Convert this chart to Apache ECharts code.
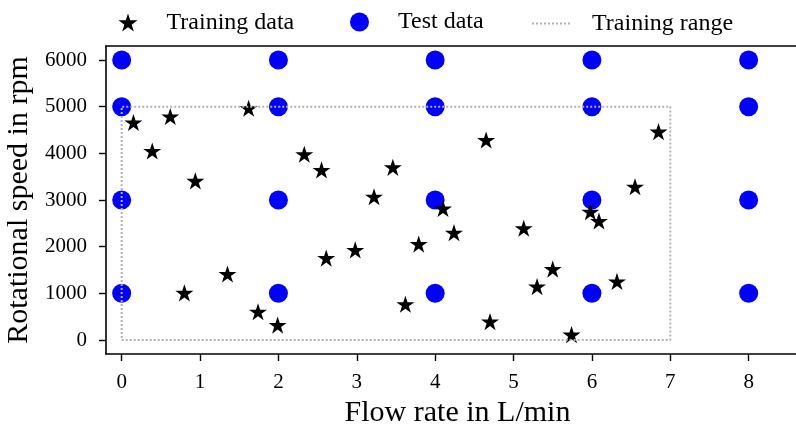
<!DOCTYPE html>
<html>
<head>
<meta charset="utf-8">
<script src="https://cdn.jsdelivr.net/npm/echarts@6/dist/echarts.min.js"></script>
<style>
  html, body { margin: 0; padding: 0; background: #fff; }
  #chart { width: 796px; height: 427px; }
</style>
</head>
<body>
<div id="chart"></div>
<script>
// training points: flow rate (L/min), rotational speed (rpm)
const trainFlow = [0.15, 0.62, 1.62, 0.39, 0.94, 2.33, 2.55, 3.46, 3.22, 4.10,
  3.79, 2.98, 2.61, 1.35, 0.80, 1.74, 1.99, 3.62, 4.65, 6.85,
  6.55, 4.24, 5.13, 5.98, 6.09, 5.50, 5.30, 6.32, 4.70, 5.74];
const trainSpeed = [4660, 4790, 4965, 4050, 3410, 3980, 3645, 3700, 3070, 2820,
  2055, 1930, 1755, 1415, 1010, 605, 320, 765, 4285, 4465,
  3285, 2300, 2395, 2750, 2550, 1520, 1145, 1255, 395, 115];

// test grid
const testFlow = [0, 2, 4, 6, 8];
const testSpeed = [1000, 3000, 5000, 6000];

// training range box corners
const rangeFlow = [0, 7, 7, 0, 0];
const rangeSpeed = [0, 0, 5000, 5000, 0];

const xTicks = [0, 1, 2, 3, 4, 5, 6, 7, 8];
const yTicks = [0, 1000, 2000, 3000, 4000, 5000, 6000];

const starPath = 'path://M100,0 L122.45,69.1 L195.1,69.1 L136.33,111.8 L158.78,180.9 L100,138.2 L41.22,180.9 L63.67,111.8 L4.9,69.1 L77.55,69.1 Z';
const font = 'Liberation Serif';

const trainData = trainFlow.map((f, i) => [f, trainSpeed[i]]);
const testData = testFlow.flatMap(f => testSpeed.map(s => [f, s]));
const rangeData = rangeFlow.map((f, i) => [f, rangeSpeed[i]]);

const chart = echarts.init(document.getElementById('chart'), null, { renderer: 'canvas' });

const legendText = pad => ({ fontFamily: font, fontSize: 24, color: '#000', padding: [0, 0, 0, pad] });

const option = {
  animation: false,
  textStyle: { fontFamily: font },
  legend: [
    { data: [{ name: 'Training data', icon: starPath }], left: 118.5, top: 10.5, padding: 0,
      itemWidth: 19, itemHeight: 19, textStyle: legendText(24), selectedMode: false },
    { data: [{ name: 'Test data', icon: 'circle' }], left: 350, top: 10, padding: 0,
      itemWidth: 19, itemHeight: 19, textStyle: legendText(24), selectedMode: false },
    { data: [{ name: 'Training range', itemStyle: { color: 'rgba(0,0,0,0)', borderWidth: 0, opacity: 0 } }],
      left: 531, top: 11.5, padding: 0, itemWidth: 40, itemHeight: 14,
      textStyle: legendText(15), selectedMode: false }
  ],
  grid: { left: 106, right: -13, top: 46, bottom: 73, outerBoundsMode: 'none', containLabel: false },
  xAxis: [{
    type: 'value',
    min: -0.2,
    max: 8.77,
    name: 'Flow rate in L/min',
    nameLocation: 'middle',
    nameGap: 43,
    nameTextStyle: { fontFamily: font, fontSize: 30, color: '#000' },
    splitLine: { show: false },
    axisLine: { show: true, onZero: false, lineStyle: { color: '#000', width: 1.6 } },
    axisTick: { show: true, inside: false, length: 7, lineStyle: { color: '#000', width: 1.4 }, customValues: xTicks },
    axisLabel: { fontFamily: font, fontSize: 21, color: '#000', margin: 18, customValues: xTicks }
  }, {
    type: 'value',
    position: 'top',
    min: -0.2,
    max: 8.77,
    splitLine: { show: false },
    axisLine: { show: true, onZero: false, lineStyle: { color: '#000', width: 1.6 } },
    axisTick: { show: false },
    axisLabel: { show: false }
  }],
  yAxis: {
    type: 'value',
    min: -300,
    max: 6300,
    name: 'Rotational speed in rpm',
    nameLocation: 'middle',
    nameGap: 72,
    nameTextStyle: { fontFamily: font, fontSize: 30, color: '#000' },
    splitLine: { show: false },
    axisLine: { show: true, onZero: false, lineStyle: { color: '#000', width: 1.6 } },
    axisTick: { show: true, inside: false, length: 7, lineStyle: { color: '#000', width: 1.4 }, customValues: yTicks },
    axisLabel: { fontFamily: font, fontSize: 21, color: '#000', margin: 19, customValues: yTicks,
      formatter: v => String(v) }
  },
  series: [
    {
      name: 'Test data',
      type: 'scatter',
      data: testData,
      symbol: 'circle',
      symbolSize: 19,
      itemStyle: { color: '#0000ff', opacity: 1 }
    },
    {
      name: 'Training data',
      type: 'scatter',
      data: trainData,
      symbol: starPath,
      symbolSize: 18,
      symbolKeepAspect: true,
      itemStyle: { color: '#000', opacity: 1 }
    },
    {
      name: 'Training range',
      type: 'line',
      data: rangeData,
      symbol: 'none',
      lineStyle: { color: '#b3b3b3', width: 2, type: [2, 2] },
      itemStyle: { color: '#b3b3b3' }
    }
  ]
};

chart.setOption(option);
window.addEventListener('resize', () => chart.resize());
</script>
</body>
</html>
